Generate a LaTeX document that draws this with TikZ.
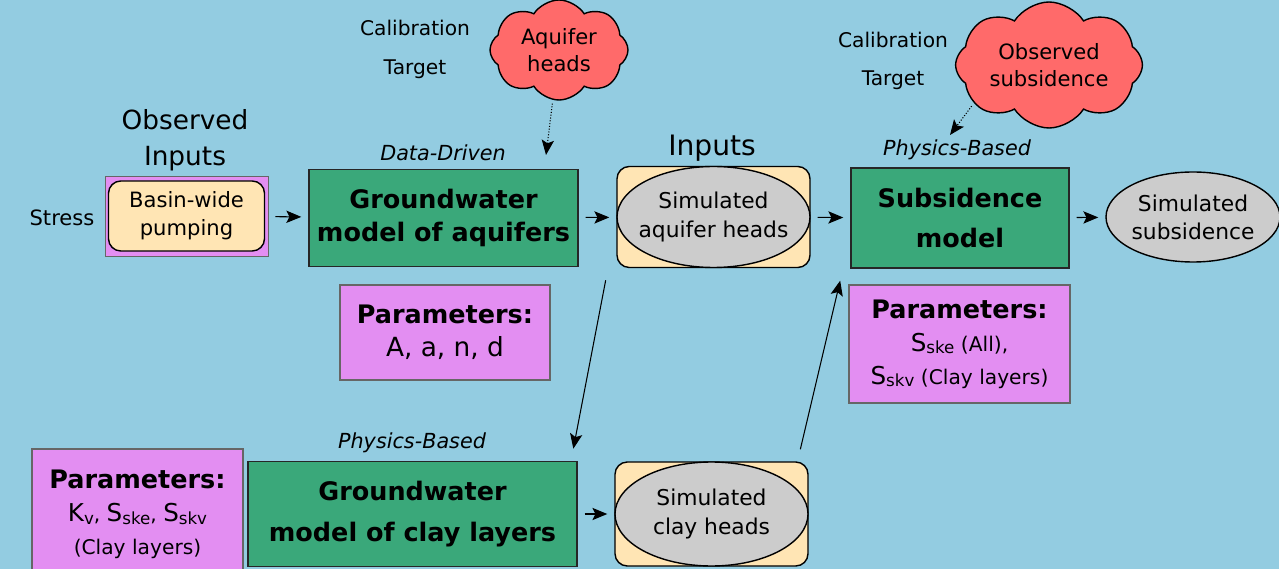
\documentclass[tikz,border=0pt]{standalone}
\usepackage{fontspec}
\setmainfont{DejaVu Sans}
\usetikzlibrary{shapes.geometric,shapes.symbols,arrows.meta}

\definecolor{skyblue}{RGB}{147,204,225}
\definecolor{modelgreen}{RGB}{58,168,122}
\definecolor{parpurple}{RGB}{227,142,242}
\definecolor{inputcream}{RGB}{255,229,180}
\definecolor{simgray}{RGB}{204,204,204}
\definecolor{targetred}{RGB}{255,106,106}

\newcommand{\lowtxt}[1]{\raisebox{-0.25ex}{\fontsize{9.5}{9.5}\selectfont #1}}
\newcommand{\symb}[2]{{\fontsize{14}{14}\selectfont #1}\lowtxt{#2}}
\newcommand{\parhead}{{\bfseries\fontsize{14.5}{19}\selectfont Parameters:}}

\tikzset{
    model/.style={
        draw=black!85,
        fill=modelgreen,
        thick,
        align=center,
        font=\bfseries\fontsize{14.5}{19}\selectfont
    },
    param/.style={
        draw=black!60,
        fill=parpurple,
        semithick,
        align=center,
        font=\fontsize{11.5}{18.7}\selectfont
    },
    inbox/.style={
        draw=black,
        fill=inputcream,
        thick,
        rounded corners=7pt
    },
    sim/.style={
        draw=black,
        fill=simgray,
        thick,
        ellipse,
        inner xsep=-6pt,
        inner ysep=0pt,
        align=center,
        font=\fontsize{12.4}{16}\selectfont
    },
    obs/.style={
        cloud,
        cloud puffs=8,
        cloud puff arc=115,
        cloud ignores aspect,
        draw=black,
        fill=targetred,
        thick,
        align=center,
        font=\fontsize{12}{15}\selectfont
    },
    note/.style={
        align=center,
        font=\fontsize{11.5}{22}\selectfont
    },
    approach/.style={
        font=\itshape\fontsize{11.8}{13}\selectfont
    },
    flow/.style={
        ->,
        semithick,
        shorten <=4pt,
        shorten >=4pt
    },
    calib/.style={
        ->,
        densely dotted,
        semithick
    }
}

\begin{document}
\begin{tikzpicture}[>={Stealth[length=8.5pt,width=7pt,inset=1.8pt]}]

    \fill[skyblue] (0,0) rectangle (25.58,-11.38);
    \useasboundingbox (0,0) rectangle (25.58,-11.38);

    % observed inputs
    \path
        node[align=center, font=\fontsize{15}{20.5}\selectfont] at (3.70,-2.80) (obsin) {Observed\\Inputs}
        node[note, font=\fontsize{12}{14}\selectfont] at (1.24,-4.36) (stress) {Stress}
        node[draw=black!60, fill=parpurple, minimum width=3.26cm, minimum height=1.60cm] at (3.73,-4.32) (pumpframe) {}
        node[inbox, minimum width=3.12cm, minimum height=1.40cm, align=center,
             font=\fontsize{12}{16}\selectfont] at (3.73,-4.32) (pump) {Basin-wide\\pumping};

    % top row: models and simulated quantities
    \path
        node[model, minimum width=5.38cm, minimum height=1.94cm] at (8.87,-4.36) (gwa) {Groundwater\\model of aquifers}
        node[approach] at (8.86,-3.06) (dd) {Data-Driven}
        node[param, minimum width=4.20cm, minimum height=1.90cm,
             font=\fontsize{15}{19}\selectfont] at (8.90,-6.65) (para) {\parhead\\A, a, n, d}
        node[align=center, font=\fontsize{16}{20}\selectfont] at (14.24,-2.96) (inp) {Inputs}
        node[inbox, minimum width=3.86cm, minimum height=2.02cm] at (14.27,-4.34) (aqhbox) {}
        node[sim, minimum width=3.86cm, minimum height=2.02cm] at (14.27,-4.34) (aqh) {Simulated\\aquifer heads}
        node[model, minimum width=4.36cm, minimum height=2.00cm] at (19.20,-4.36) (sub) {Subsidence\\[4pt]model}
        node[approach] at (19.14,-3.00) (pbtop) {Physics-Based}
        node[param, minimum width=4.42cm, minimum height=2.36cm] at (19.19,-6.88) (pars)
            {\parhead\\\symb{S}{ske} (All),\\\symb{S}{skv} (Clay layers)}
        node[sim, minimum width=3.48cm, minimum height=1.80cm] at (23.86,-4.34) (simsub) {Simulated\\subsidence};

    % calibration targets
    \path
        node[note] at (8.30,-0.99) (cal1) {Calibration\\Target}
        node[obs, minimum width=2.76cm, minimum height=2.00cm] at (11.18,-1.00) (aqc) {Aquifer\\heads}
        node[note] at (17.86,-1.22) (cal2) {Calibration\\Target}
        node[obs, minimum width=3.48cm, minimum height=2.52cm] at (20.98,-1.30) (osc) {Observed\\subsidence};
    \coordinate (aqt) at (10.92,-3.10);
    \coordinate (ost) at (19.00,-2.70);

    % bottom row: clay layers
    \path
        node[param, minimum width=4.22cm, minimum height=2.62cm] at (2.75,-10.29) (parc)
            {\parhead\\\symb{K}{v}, \symb{S}{ske}, \symb{S}{skv}\\(Clay layers)}
        node[model, minimum width=6.58cm, minimum height=2.10cm] at (8.25,-10.28) (gwc) {Groundwater\\[4pt]model of clay layers}
        node[approach] at (8.24,-8.86) (pbbot) {Physics-Based}
        node[inbox, minimum width=3.86cm, minimum height=2.08cm] at (14.23,-10.28) (clhbox) {}
        node[sim, minimum width=3.86cm, minimum height=2.08cm] at (14.23,-10.28) (clh) {Simulated\\clay heads};

    % main flow
    \path[flow]
        (pumpframe) edge (gwa)
        (gwa)       edge (aqhbox)
        (aqhbox)    edge (sub)
        (sub)       edge (simsub)
        (gwc)       edge (clhbox);

    % heads passed down to the clay model and back up to subsidence
    \path[flow, shorten <=7pt, shorten >=7pt]
        ([xshift=-2.11cm]aqhbox.south) edge ([xshift=3.17cm]gwc.north)
        ([xshift=1.72cm]clhbox.north)  edge ([xshift=-2.34cm]sub.south);

    % calibration
    \path[calib]
        (aqc)     edge[shorten <=2pt] (aqt)
        (osc.207) edge[shorten <=2pt] (ost);
\end{tikzpicture}
\end{document}
